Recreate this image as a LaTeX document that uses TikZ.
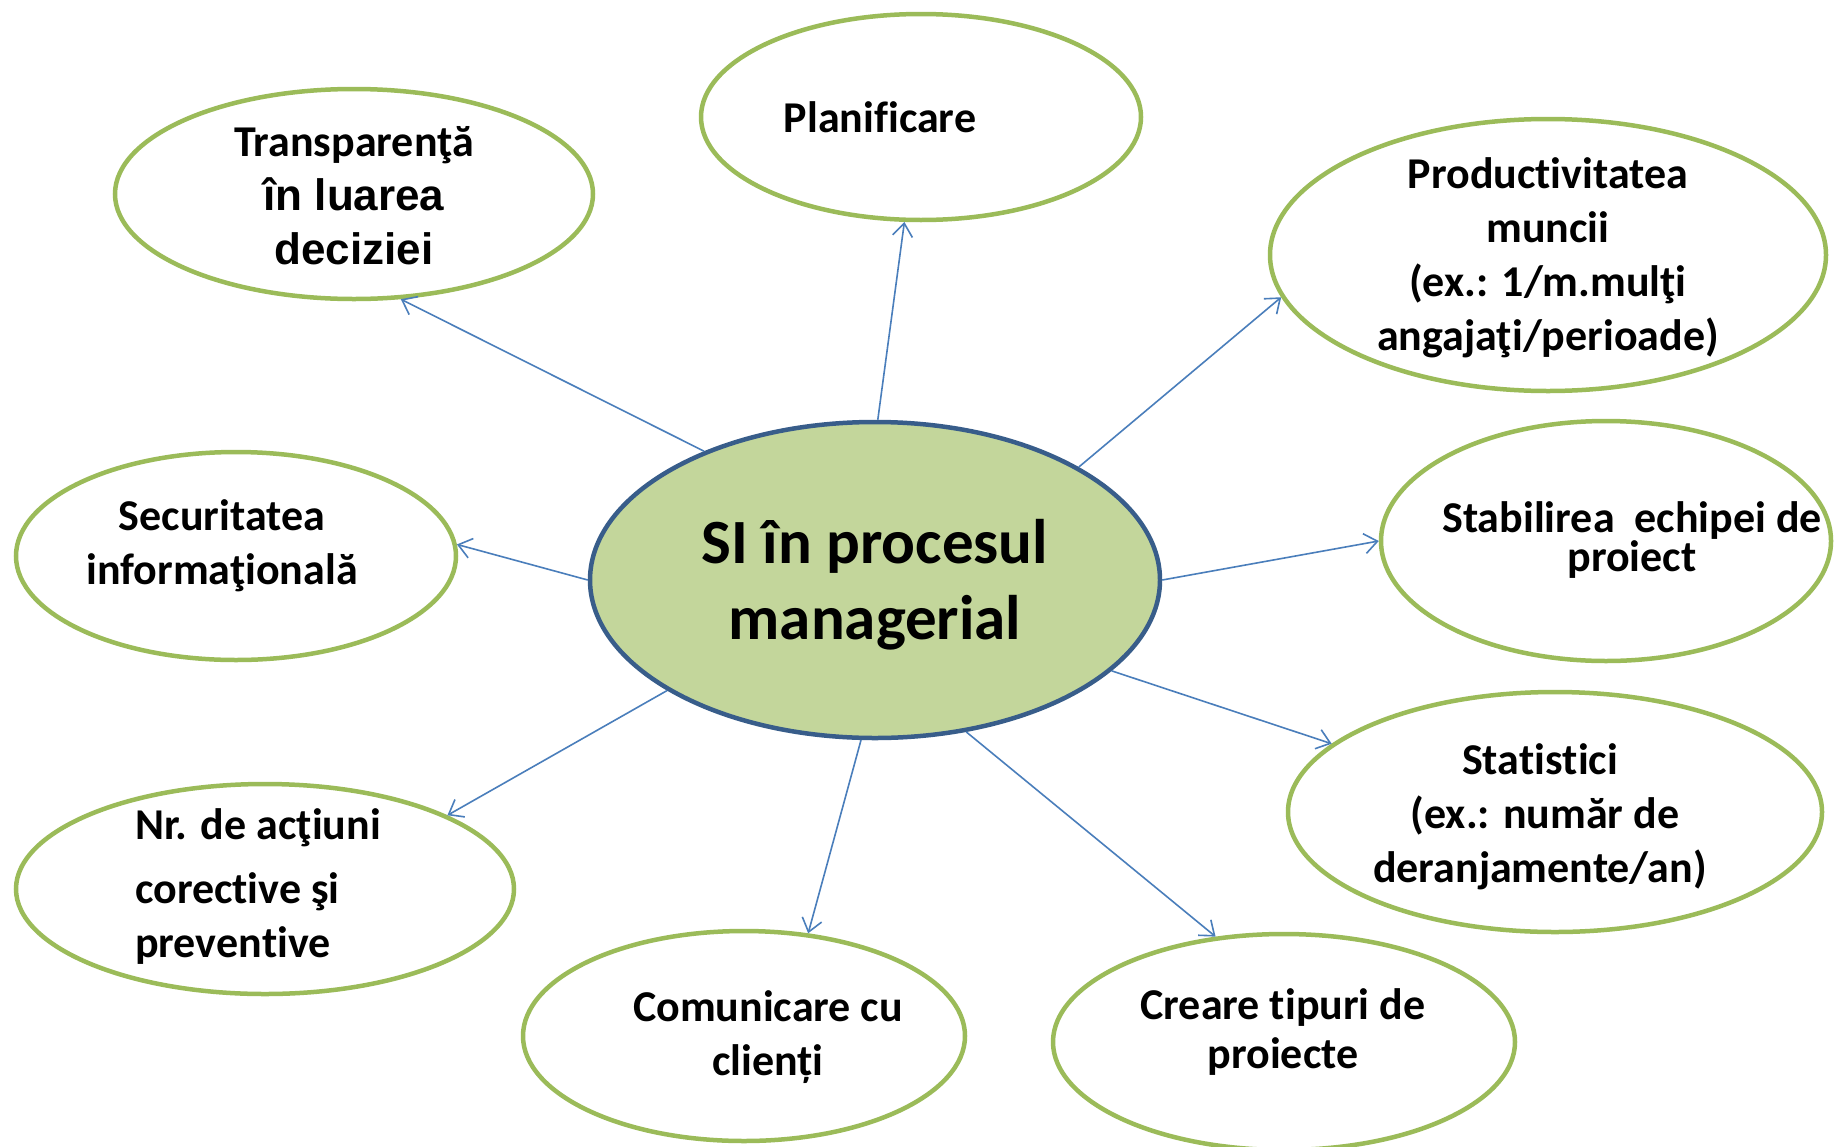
\documentclass[tikz,border=0pt]{standalone}
\usepackage{fontspec}
\setmainfont{Carlito}[RawFeature={-liga;-clig;-calt;-dlig}]
\newfontfamily\arialfont{Liberation Sans}
\newcommand\zk{\kern0pt{}}
\usetikzlibrary{shapes.geometric,arrows.meta}
\definecolor{ogreen}{HTML}{9BBB59}
\definecolor{cfill}{HTML}{C3D69B}
\definecolor{cborder}{HTML}{385D8A}
\definecolor{oblue}{HTML}{4A7EBB}
\begin{document}
\begin{tikzpicture}[x=1pt,y=-1pt,
  bubble/.style={ellipse,draw=ogreen,line width=4.5pt,fill=white,inner sep=0pt},
  hub/.style={ellipse,draw=cborder,line width=4.5pt,fill=cfill,inner sep=0pt},
  lbl/.style={font=\fontsize{44}{54}\selectfont\bfseries,align=center,inner sep=0pt},
  hublbl/.style={font=\fontsize{63}{76}\selectfont\bfseries,align=center,inner sep=0pt},
  conn/.style={draw=oblue,line width=1.6pt,-{Straight Barb[length=13pt,width=20pt]}}]
\clip (0,0) rectangle (1836,1146);
\fill[white] (0,0) rectangle (1836,1146);

% ellipses
\node[hub,minimum width=570pt,minimum height=316pt] (c) at (875,580) {};
\node[bubble,minimum width=440pt,minimum height=206pt] (pl) at (921,117) {};
\node[bubble,minimum width=478pt,minimum height=210pt] (tr) at (354,194) {};
\node[bubble,minimum width=556pt,minimum height=272pt] (pr) at (1548,255) {};
\node[bubble,minimum width=440pt,minimum height=208pt] (se) at (236,556) {};
\node[bubble,minimum width=450pt,minimum height=240pt] (sb) at (1606,541) {};
\node[bubble,minimum width=534pt,minimum height=240pt] (st) at (1555,812) {};
\node[bubble,minimum width=498pt,minimum height=210pt] (nr) at (265,889) {};
\node[bubble,minimum width=442pt,minimum height=210pt] (co) at (744,1036) {};
\node[bubble,minimum width=462pt,minimum height=216pt] (cr) at (1284,1042) {};

% texts
\node[hublbl] (tc) at (875,585) {SI în procesul\\managerial};
\node[lbl] (tpl) at (880,117) {Planif\zk icare};
\node[lbl] (ttr) at (354,196) {Transparenţă\\{\arialfont în luarea}\\{\arialfont deciziei}};
\node[lbl] (tpr) at (1548,258) {Produc\zk t\zk ivitatea\\muncii\\(ex.: 1/m.mulţi\\angajaţi/perioade)};
\node[lbl] (tse) at (222,546) {Securitatea\\informaţională};
\node[lbl,font=\fontsize{44}{39}\selectfont\bfseries] (tsb) at (1632,540) {Stabilirea\ \ echipei de\\proiect};
\node[lbl] (tst) at (1540,817) {Stat\zk is\zk t\zk ici\\\ (ex.: număr de\\deranjamente/an)};
\node[lbl,align=left,anchor=west] (tnr) at (135,887) {Nr. de acţiuni\\[10pt]corec\zk t\zk ive şi\\preven\zk t\zk ive};
\node[lbl] (tco) at (768,1037) {Comunicare cu\\clienți};
\node[lbl,font=\fontsize{44}{49}\selectfont\bfseries] (tcr) at (1283,1032) {Creare t\zk ipuri de\\proiecte};

% connectors
\draw[conn] (c.143.6) -- (tr.294.4);
\draw[conn] (c.89.5) -- (pl.261);
\draw[conn] (c.29.1) -- (pr.189.9);
\draw[conn] (c.180.5) -- (se.3);
\draw[conn] (c.0.5) -- (sb.180);
\draw[conn] (c.339) -- (st.163.6);
\draw[conn] (c.301) -- (cr.123);
\draw[conn] (c.265) -- (co.58.5);
\draw[conn] (c.208.7) -- (nr.22.8);
\end{tikzpicture}
\end{document}
